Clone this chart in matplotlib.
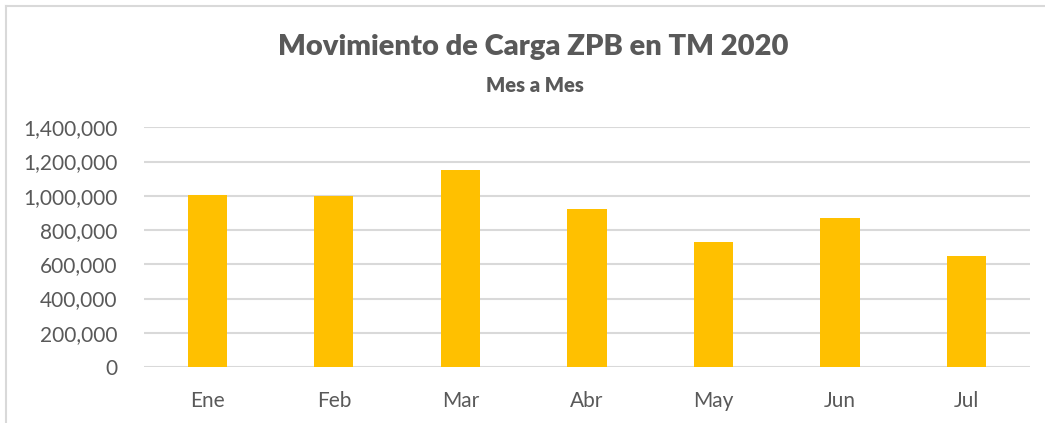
import matplotlib
matplotlib.use("Agg")
import matplotlib.pyplot as plt
from matplotlib.ticker import FuncFormatter
from matplotlib.lines import Line2D

plt.rcParams["font.family"] = ["Lato", "DejaVu Sans"]

meses = ["Ene", "Feb", "Mar", "Abr", "May", "Jun", "Jul"]
toneladas = [1006000, 996000, 1152000, 922000, 729000, 873000, 647000]
yticks = [0, 200000, 400000, 600000, 800000, 1000000, 1200000, 1400000]

TXT = "#595959"
fig = plt.figure(figsize=(10.45, 4.23), dpi=100)
ax = fig.add_axes([0.1378, 0.1324, 0.8478, 0.5666])

ax.bar(range(len(meses)), toneladas, width=0.31, color="#FFC000", zorder=3)
ax.set_xlim(-0.5, len(meses) - 0.5)
ax.set_ylim(0, 1400000)
ax.set_yticks(yticks)
ax.yaxis.set_major_formatter(FuncFormatter(lambda v, _: f"{int(v):,}"))
ax.set_xticks(range(len(meses)))
ax.set_xticklabels(meses)
ax.grid(axis="y", color="#d9d9d9", lw=1.5, zorder=0)
for s in ax.spines.values():
    s.set_visible(False)
ax.tick_params(length=0, labelsize=15, labelcolor=TXT)
ax.tick_params(axis="y", pad=19)
ax.tick_params(axis="x", pad=17)

fig.text(0.51, 0.889, "Movimiento de Carga ZPB en TM 2020", ha="center", va="center",
         fontsize=21, fontweight="heavy", color=TXT)
fig.text(0.512, 0.799, "Mes a Mes", ha="center", va="center",
         fontsize=14.5, fontweight="heavy", color=TXT)

# chart frame (only top and left visible in the crop)
fig.add_artist(Line2D([0.0057, 1], [0.986, 0.986], transform=fig.transFigure, color="#d9d9d9", lw=1.5))
fig.add_artist(Line2D([0.0057, 0.0057], [0, 0.986], transform=fig.transFigure, color="#d9d9d9", lw=1.5))

fig.savefig("out.png", dpi=100)
